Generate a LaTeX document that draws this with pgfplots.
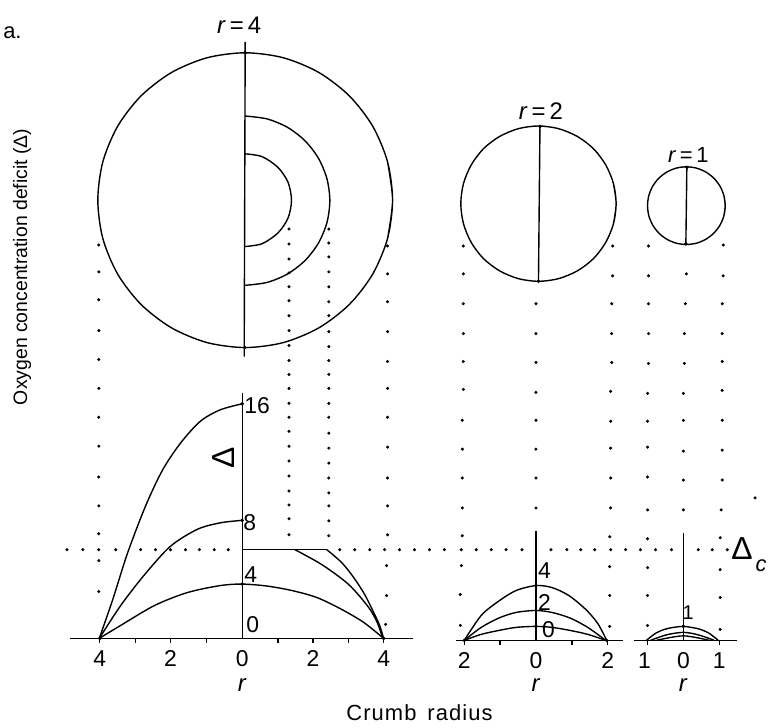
\documentclass[border=0pt]{standalone}
\usepackage{pgfplots}
\pgfplotsset{compat=1.18}
\usepackage{fontspec}
\setmainfont{Liberation Sans}
\begin{document}
\begin{tikzpicture}
\begin{axis}[width=771pt, height=731pt, scale only axis,
  xmin=0, xmax=771, ymin=0, ymax=731, y dir=reverse,
  hide axis, clip=false, unbounded coords=jump]
\pgfplotsset{ln/.style={black, line width=1.4pt},
  dotcol/.style={only marks, mark=*, mark size=1.35pt, black},
  enddot/.style={only marks, mark=*, mark size=1.6pt, black}}
% frame for bounding box
\addplot[draw=none] coordinates {(0,0) (771,731)};
% ---- big circle r=4
\addplot[ln, smooth] coordinates {
(386,239.3) (391,201) (386.0,162.7) (371.2,127) (347.7,96.4) (317,72.8) (281.3,58) (243,53)
(204.7,58) (169,72.8) (138.3,96.4) (114.8,127) (100,162.7) (95,201)
(100,239.3) (114.8,275) (138.3,305.6) (169,329.2) (204.7,344) (243,349)
(281.3,344) (317,329.2) (347.7,305.6) (371.2,275) (386,239.3) (391,201) (386.0,162.7)};
\addplot[ln] coordinates {(243,42) (242,358)};
\addplot[ln, smooth] coordinates {
(243,116.5) (265,119.4) (285.5,127.9) (303.1,141.4) (316.6,159) (325.1,179.5) (328,201.5)
(325.1,223.5) (316.6,244) (303.1,261.6) (285.5,275.1) (265,283.6) (243,286.5)};
\addplot[ln, smooth] coordinates {
(243,154.5) (260,157.3) (275.9,168.1) (286,183) (289.5,201) (286,219) (275.9,233.9) (260,244.7) (243,247.5)};
% ---- circle r=2
\addplot[ln, smooth] coordinates {
(612.8,224.7) (615.5,204.5) (612.8,184.3) (605,165.5) (592.7,149.3) (576.5,137) (557.7,129.2) (537.5,126.5)
(517.3,129.2) (498.5,137) (482.3,149.3) (470,165.5) (462.2,184.3) (459.5,204.5)
(462.2,224.7) (470,243.5) (482.3,259.7) (498.5,272) (517.3,279.8) (537.5,282.5)
(557.7,279.8) (576.5,272) (592.7,259.7) (605,243.5) (612.8,224.7) (615.5,204.5) (612.8,184.3)};
\addplot[ln] coordinates {(539,127) (537.5,282.5)};
% ---- circle r=1
\addplot[ln, smooth] coordinates {
(723.7,216.6) (725,206.5) (723.7,196.4) (719.8,187) (713.6,178.9) (705.5,172.7) (696.1,168.8) (686,167.5)
(675.9,168.8) (666.5,172.7) (658.4,178.9) (652.2,187) (648.3,196.4) (647,206.5)
(648.3,216.6) (652.2,226) (658.4,234.1) (666.5,240.3) (675.9,244.2) (686,245.5)
(696.1,244.2) (705.5,240.3) (713.6,234.1) (719.8,226) (723.7,216.6) (725,206.5) (723.7,196.4)};
\addplot[ln] coordinates {(686.5,167.5) (685.5,245.5)};
% end dots on diameters
\addplot[enddot] coordinates {
(243,53) (242.5,349) (539,127) (537.5,282.5) (686.5,168) (685.5,245)};
% ---- dotted guide columns
\addplot[dotcol] coordinates {(96,246) (96,273) (96,301) (96,332) (96,361) (96,390) (96,419) (96,448) (96,479) (96,508) (96,536) (96,563) (96,594)};
\addplot[dotcol] coordinates {(287,230) (287,245) (287,260) (287,274) (287,288) (287,302) (287,317) (287,332) (287,347) (287,362) (287,376) (287,390) (287,405) (287,419) (287,433) (287,448) (287,463) (287,478) (287,493) (287,507) (287,521) (287,537)};
\addplot[dotcol] coordinates {(327,230) (327,244) (327,258) (327,273) (327,288) (327,303) (327,317) (327,333) (327,348) (327,362) (327,376) (327,390) (327,405) (327,419) (327,435) (327,450) (327,465) (327,480) (327,495) (327,508) (327,523) (327,538)};
\addplot[dotcol] coordinates {(386,247) (386,275) (386,303) (386,333) (386,363) (386,390) (386,419) (386,449) (386,480) (386,508) (386,537) (385,568) (385,598) (384,627)};
\addplot[dotcol] coordinates {(462,247) (462,275) (462,305) (462,335) (462,363) (462,391) (461,422) (461,451) (461,480) (461,510) (461,538) (460,568) (459,597) (459,628)};
\addplot[dotcol] coordinates {(535,305) (535,335) (535,364) (535,394) (535,422) (535,451) (535,480) (535,510)};
\addplot[dotcol] coordinates {(612,247) (612,277) (611,305) (611,335) (611,364) (610,393) (610,423) (610,450) (610,480) (610,510) (609,539) (609,569) (609,598) (609,629)};
\addplot[dotcol] coordinates {(648,247) (648,277) (648,305) (648,335) (648,365) (647,395) (647,423) (647,449) (647,479) (647,512) (647,541) (647,570) (647,598) (647,628)};
\addplot[dotcol] coordinates {(686,275) (685,305) (684,335) (684,365) (683,395) (683,422) (683,453) (683,482) (683,512)};
\addplot[dotcol] coordinates {(723,246) (723,277) (722,305) (722,335) (722,363) (722,392) (722,422) (722,452) (722,482) (721,512) (720,540) (720,572) (720,600) (720,632)};
\addplot[dotcol] coordinates {(755,500)};
% horizontal dotted line (critical deficit)
\addplot[dotcol] coordinates {(64,552) (80,552) (96,552) (113,552) (138,552) (153,552) (168,552) (183,552) (197,552) (212,552) (226,552)
(338,552) (353,552) (368,552) (383,552) (398,552) (413,552) (428,552) (443,552) (460,552) (475,552) (490,552) (505,552) (521,552)
(550,552) (566,552) (580,552) (594,552) (610,552) (625,552) (640,552) (655,552) (671,552) (698,552) (712,552) (727,552)};
% ---- panel 1 (r=4)
\addplot[ln] coordinates {(67,641) (412,641)};
\addplot[ln] coordinates {(240,395) (240,641)};
\addplot[ln] coordinates {(97,641) (97,646) (nan,nan) (133,641) (133,646) (nan,nan) (168,641) (168,646) (nan,nan) (204,641) (204,646) (nan,nan) (276,641) (276,646) (nan,nan) (311,641) (311,646) (nan,nan) (347,641) (347,646) (nan,nan) (382,641) (382,646)};
\addplot[ln, smooth] coordinates {(96.5,641) (110,602) (125,555) (143,508) (160,472) (178,445) (198,423) (218,411.5) (240,405.5)};
\addplot[ln, smooth] coordinates {(96.5,641) (118,608) (142,577) (168,548.5) (195,531.5) (218,525) (240,522.5)};
\addplot[ln, smooth] coordinates {(96.5,641) (118,628) (152,608) (185,595) (218,588) (240,586.5) (265,588.5) (290,593) (315,600) (340,612) (362,625) (382,641)};
\addplot[ln] coordinates {(240,552) (325,552)};
\addplot[ln, smooth] coordinates {(325,552) (340,565) (352,580) (363,597) (372,615) (378,628) (382,641)};
\addplot[ln, smooth] coordinates {(293,552) (320,567) (347,587) (367,610) (376,626) (381,641)};
\addplot[enddot] coordinates {(240,405.5) (240,522.5) (240,586.5) (97,641) (382,641)};
% ---- panel 2 (r=2)
\addplot[ln] coordinates {(455,643) (622,643)};
\addplot[ln] coordinates {(535,533) (535,643)};
\addplot[ln] coordinates {(463,643) (463,648) (nan,nan) (499,643) (499,648) (nan,nan) (571,643) (571,648) (nan,nan) (607,643) (607,648)};
\addplot[ln, smooth] coordinates {(463,643) (480,618) (497,604) (515,593) (535,588) (551,590) (568,598) (585,612) (597,626) (606,643)};
\addplot[ln, smooth] coordinates {(463,643) (480,630) (498,620.5) (515,615) (535,613) (551,615) (569,620.5) (587,630) (605,643)};
\addplot[ln, smooth] coordinates {(463,643) (480,637) (498,633) (515,630) (535,629) (551,630) (569,633) (587,637) (605,643)};
\addplot[enddot] coordinates {(535,588) (535,613) (535,629) (463,643) (606,643)};
% ---- panel 3 (r=1)
\addplot[ln] coordinates {(633,643) (737,643)};
\addplot[ln] coordinates {(683,535) (683,643)};
\addplot[ln] coordinates {(647,643) (647,648) (nan,nan) (719,643) (719,648)};
\addplot[ln, smooth] coordinates {(646,643) (655,636) (664,632) (673,630) (683,629) (691,630) (700,632) (709,636) (718,643)};
\addplot[ln, smooth] coordinates {(650,643) (666,637.5) (683,635) (698,637.5) (714,643)};
\addplot[ln, smooth] coordinates {(656,643) (683,638.5) (709,643)};
\addplot[enddot] coordinates {(683,629)};
% ---- text
\node[font=\fontsize{22}{24}\selectfont, anchor=east] at (22,33) {a.};
\node[font=\fontsize{24}{26}\selectfont] at (237,25) {\textit{r}\,=\,4};
\node[font=\fontsize{24}{26}\selectfont] at (540,112) {\textit{r}\,=\,2};
\node[font=\fontsize{22}{24}\selectfont] at (688,156) {\textit{r}\,=\,1};
\node[font=\fontsize{19.5}{22}\selectfont, rotate=90] at (19,268) {Oxygen concentration deficit (Δ)};
\node[font=\fontsize{22}{25}\selectfont\addfontfeature{LetterSpace=5}] at (418,716) {Crumb\hspace{0.5em}radius};
\node[font=\fontsize{32}{34}\selectfont, rotate=90] at (221,460) {Δ};
\node[font=\fontsize{32}{34}\selectfont] at (742,551) {Δ};
\node[font=\fontsize{22}{24}\selectfont] at (761,568) {\textit{c}};
% curve labels panel 1
\node[font=\fontsize{23}{25}\selectfont, anchor=west, inner sep=0pt] at (242,407) {16};
\node[font=\fontsize{23}{25}\selectfont, anchor=west, inner sep=0pt] at (241,525) {8};
\node[font=\fontsize{23}{25}\selectfont, anchor=west, inner sep=0pt] at (242,577) {4};
\node[font=\fontsize{23}{25}\selectfont, anchor=west, inner sep=0pt] at (244,627) {0};
% curve labels panel 2, 3
\node[font=\fontsize{23}{25}\selectfont, anchor=west, inner sep=0pt] at (537,573) {4};
\node[font=\fontsize{23}{25}\selectfont, anchor=west, inner sep=0pt] at (537,605) {2};
\node[font=\fontsize{23}{25}\selectfont, anchor=west, inner sep=0pt] at (541,632) {0};
\node[font=\fontsize{20}{22}\selectfont, anchor=west, inner sep=0pt] at (682,615) {1};
% axis tick labels
\foreach \xx/\tt in {97/4, 168/2, 240/0, 311/2, 382/4} {
  \edef\temp{\noexpand\node[font=\noexpand\fontsize{23}{25}\noexpand\selectfont, inner sep=0pt] at (\xx,661) {\tt};}
  \temp
}
\foreach \xx/\tt in {463/2, 535/0, 607/2, 644/1, 683/0, 719/1} {
  \edef\temp{\noexpand\node[font=\noexpand\fontsize{23}{25}\noexpand\selectfont, inner sep=0pt] at (\xx,663) {\tt};}
  \temp
}
\node[font=\fontsize{24}{26}\selectfont, inner sep=0pt] at (240,688) {\textit{r}};
\node[font=\fontsize{24}{26}\selectfont, inner sep=0pt] at (535,688) {\textit{r}};
\node[font=\fontsize{24}{26}\selectfont, inner sep=0pt] at (683,688) {\textit{r}};
\end{axis}
\end{tikzpicture}
\end{document}
